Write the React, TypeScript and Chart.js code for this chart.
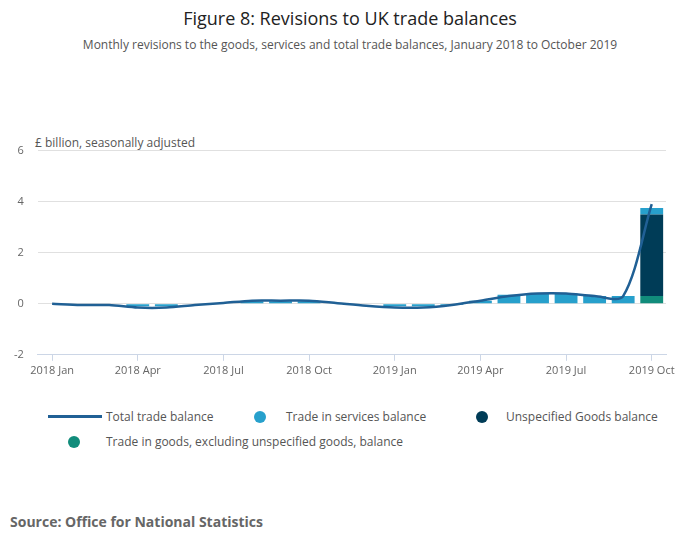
import React, { useEffect, useRef } from "react";
import { Chart, registerables } from "chart.js";
Chart.register(...registerables);

const months = ["Jan","Feb","Mar","Apr","May","Jun","Jul","Aug","Sep","Oct","Nov","Dec"];
const categories: string[] = [];
for (let i = 0; i < 22; i++) categories.push(`${2018 + Math.floor(i / 12)} ${months[i % 12]}`);

const totalBalance = [0, -0.05, -0.05, -0.15, -0.15, -0.05, 0.03, 0.12, 0.12, 0.12, 0.02, -0.08, -0.15, -0.15, -0.05, 0.12, 0.3, 0.4, 0.4, 0.3, 0.3, 3.9];
const servicesBalance = [0, 0, 0, -0.1, -0.1, 0, 0, 0.1, 0.1, 0.1, 0, 0, -0.1, -0.1, -0.05, 0.12, 0.35, 0.4, 0.4, 0.3, 0.3, 0.25];
const unspecifiedGoods = [0, 0, 0, 0, 0, 0, 0, 0, 0, 0, 0, 0, 0, 0, 0, 0, 0, 0, 0, 0, 0, 3.2];
const goodsExclUnspecified = [0, 0, 0, 0, 0, 0, 0, 0, 0, 0, 0, 0, 0, 0, 0, 0, 0, 0, 0, 0, 0, 0.3];
const yTicks = [-2, 0, 2, 4, 6];

const FONT = "'Open Sans', sans-serif";
const C_LINE = "#206095", C_SERV = "#27a0cc", C_UNSP = "#003c57", C_GOODS = "#118c7b";

export default function App() {
  const ref = useRef<HTMLCanvasElement>(null);
  useEffect(() => {
    const chart = new Chart(ref.current!, {
      data: {
        labels: categories,
        datasets: [
          { type: "line", label: "Total trade balance", data: totalBalance, borderColor: C_LINE, borderWidth: 2.5, pointRadius: 0, tension: 0.3, order: 0 },
          { type: "bar", label: "Trade in goods, excluding unspecified goods, balance", data: goodsExclUnspecified, backgroundColor: C_GOODS, stack: "s", order: 1, categoryPercentage: 0.8, barPercentage: 1 },
          { type: "bar", label: "Unspecified Goods balance", data: unspecifiedGoods, backgroundColor: C_UNSP, stack: "s", order: 1, categoryPercentage: 0.8, barPercentage: 1 },
          { type: "bar", label: "Trade in services balance", data: servicesBalance, backgroundColor: C_SERV, stack: "s", order: 1, categoryPercentage: 0.8, barPercentage: 1 },
        ],
      } as any,
      options: {
        animation: false,
        responsive: false,
        layout: { padding: { top: 20, right: 16, left: 0, bottom: 0 } },
        plugins: { legend: { display: false }, tooltip: { enabled: false } },
        scales: {
          x: {
            stacked: true,
            offset: true,
            grid: { offset: false, drawOnChartArea: false, tickLength: 6, color: (c: any) => (c.index % 3 === 0 ? "#ccd6e6" : "transparent") },
            border: { color: "#ccd6e6" },
            ticks: { autoSkip: false, maxRotation: 0, color: "#666", font: { family: FONT, size: 11 }, callback: (_v: any, i: number) => (i % 3 === 0 ? categories[i] : "") },
          },
          y: {
            stacked: true,
            min: -2, max: 6,
            afterBuildTicks: (s: any) => { s.ticks = yTicks.map((v) => ({ value: v })); },
            grid: { color: "#e0e0e0", drawTicks: false },
            border: { display: false },
            ticks: { padding: 14, color: "#666", font: { family: FONT, size: 11 } },
          },
        },
      },
    });
    return () => chart.destroy();
  }, []);

  const item = (sw: React.ReactNode, text: string, left: number, top: number) => (
    <div style={{ position: "absolute", left, top, display: "flex", alignItems: "center", fontSize: 12, color: "#555" }}>
      {sw}<span>{text}</span>
    </div>
  );
  const dot = (c: string, ml: number, mr: number) => <span style={{ display: "inline-block", width: 12, height: 12, borderRadius: 6, background: c, marginLeft: ml, marginRight: mr }} />;

  return (
    <div style={{ position: "absolute", left: 0, top: 0, width: 700, height: 549, fontFamily: FONT, background: "#fff" }}>
      <div style={{ position: "absolute", top: 6, width: 700, textAlign: "center", fontSize: 18, color: "#222" }}>Figure 8: Revisions to UK trade balances</div>
      <div style={{ position: "absolute", top: 36, width: 700, textAlign: "center", fontSize: 12, color: "#555" }}>Monthly revisions to the goods, services and total trade balances, January 2018 to October 2019</div>
      <div style={{ position: "absolute", top: 134, left: 35, fontSize: 12, color: "#555" }}>£ billion, seasonally adjusted</div>
      <canvas ref={ref} width={682} height={250} style={{ position: "absolute", left: 0, top: 130 }} />
      {item(<span style={{ display: "inline-block", width: 54, height: 3, background: C_LINE, marginRight: 4 }} />, "Total trade balance", 48, 408)}
      {item(dot(C_SERV, 0, 20), "Trade in services balance", 254, 408)}
      {item(dot(C_UNSP, 0, 18), "Unspecified Goods balance", 476, 408)}
      {item(dot(C_GOODS, 20, 26), "Trade in goods, excluding unspecified goods, balance", 48, 433)}
      <div style={{ position: "absolute", top: 512, left: 10, fontSize: 14, fontWeight: "bold", color: "#666" }}>Source: Office for National Statistics</div>
    </div>
  );
}
